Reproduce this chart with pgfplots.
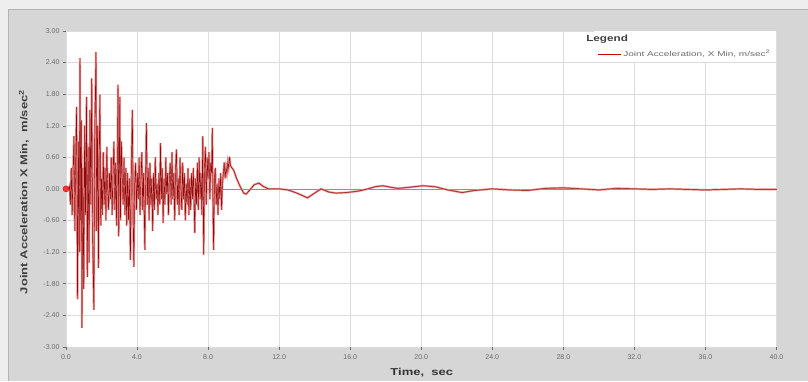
\documentclass[border=0pt]{standalone}
\usepackage{pgfplots}
\pgfplotsset{compat=1.18}
\usepackage{fontspec}
\setmainfont{Liberation Sans}
\definecolor{bgout}{HTML}{EEEEEE}
\definecolor{bgin}{HTML}{D6D6D6}
\definecolor{bord}{HTML}{B4B4B4}
\definecolor{gridc}{HTML}{DCDCDC}
\definecolor{tickc}{HTML}{6A6A6A}
\definecolor{sigdark}{HTML}{8E0A0A}
\definecolor{sigpink}{HTML}{E88A8A}
\definecolor{zeroline}{HTML}{E07070}
\begin{document}
\begin{tikzpicture}[x=1pt,y=1pt]
\fill[bgout] (0,0) rectangle (808,381);
\fill[bgin] (9,0) rectangle (808,371);
\draw[bord,line width=1pt] (9,0) -- (9,371) -- (808,371);
\begin{axis}[
  at={(66pt,34pt)}, anchor=south west,
  scale only axis, width=711pt, height=316pt,
  xmin=0, xmax=40, ymin=-3, ymax=3,
  axis background/.style={fill=white},
  xtick={0,4,...,40}, ytick={-3,-2.4,...,3.01},
  xtick pos=bottom, ytick pos=left,
  grid=major, major grid style={gridc, line width=0.5pt},
  axis line style={draw=none},
  tick style={tickc, line width=0.4pt},
  tick align=outside, major tick length=3pt,
  xticklabel style={font=\fontsize{7}{8}\selectfont, text=tickc, yshift=-1pt, /pgf/number format/.cd, fixed, fixed zerofill, precision=1, assume math mode=true},
  yticklabel style={font=\fontsize{7}{8}\selectfont, text=tickc, /pgf/number format/.cd, fixed, fixed zerofill, precision=2, assume math mode=true},
  clip mode=individual,
  legend style={at={(rel axis cs:1,1)}, anchor=north east, draw=none, fill=white,
    font=\fontsize{7}{8}\selectfont, text=tickc, inner xsep=4pt, inner ysep=2pt, row sep=3pt},
  legend cell align=left,
]
\addlegendimage{empty legend}
\addlegendentry{\hspace*{-37pt}\scalebox{1.3}[1]{\fontsize{9}{10}\selectfont\bfseries\color{black!75}Legend}}
\draw[zeroline, line width=0.6pt] (axis cs:0,0) -- (axis cs:40,0);
\pgfplotstableread{
t v
0.00 0
0.15 0
0.20 0.05
0.25 -0.3
0.30 0.4
0.35 -0.5
0.40 0.3
0.45 1.0
0.50 -0.8
0.55 0.6
0.60 1.56
0.65 -2.1
0.70 0.9
0.75 -1.2
0.79 2.49
0.83 -0.6
0.87 1.3
0.90 -2.64
0.95 0.4
1.00 -1.9
1.05 1.2
1.10 -0.5
1.16 1.75
1.20 -1.67
1.25 0.8
1.30 -1.4
1.35 1.5
1.40 -0.3
1.45 2.1
1.50 -0.9
1.57 -2.3
1.62 1.0
1.69 2.6
1.73 -0.8
1.78 1.2
1.83 -1.5
1.87 0.6
1.91 1.79
1.96 -0.7
2.00 0.2
2.05 -0.5
2.10 0.7
2.15 -0.3
2.20 0.4
2.25 -0.6
2.30 0.8
2.35 0.0
2.40 -0.4
2.45 0.3
2.50 -0.2
2.55 0.6
2.60 -0.5
2.65 0.3
2.70 0.9
2.75 -0.4
2.80 0.5
2.85 -0.7
2.90 0.8
2.93 1.98
2.97 -0.9
3.03 1.75
3.07 -0.6
3.12 0.9
3.17 0.2
3.22 -0.3
3.27 0.6
3.32 -0.5
3.37 0.4
3.42 -0.7
3.47 0.3
3.52 -0.6
3.57 0.2
3.63 -1.35
3.68 0.4
3.74 1.5
3.78 -0.5
3.82 -1.48
3.87 0.1
3.92 0.5
3.97 -0.4
4.02 0.3
4.07 -0.2
4.12 0.6
4.17 -0.5
4.22 0.2
4.27 0.7
4.32 -0.4
4.37 0.3
4.44 -1.16
4.48 0.2
4.53 1.25
4.58 -0.3
4.63 0.4
4.68 -0.6
4.73 0.5
4.78 -0.3
4.83 0.2
4.88 -0.8
4.93 0.3
4.98 -0.4
5.03 0.6
5.08 -0.2
5.13 0.1
5.18 -0.5
5.23 0.3
5.28 -0.3
5.32 0.87
5.37 -0.2
5.42 0.4
5.47 -0.65
5.52 0.2
5.57 -0.3
5.62 0.6
5.67 -0.1
5.72 0.3
5.77 -0.5
5.82 0.2
5.87 0.5
5.92 -0.3
5.97 0.7
6.02 -0.2
6.07 0.3
6.12 -0.6
6.17 0.4
6.22 0.75
6.27 -0.3
6.32 0.2
6.37 -0.5
6.42 0.6
6.47 0.0
6.52 -0.4
6.57 0.5
6.62 -0.2
6.67 0.3
6.72 -0.6
6.77 0.1
6.82 -0.3
6.87 0.4
6.92 -0.5
6.97 0.2
7.02 -0.4
7.07 0.3
7.12 -0.2
7.17 0.4
7.25 -0.84
7.30 0.2
7.35 -0.3
7.40 0.5
7.45 -0.4
7.50 0.6
7.55 -0.2
7.60 0.3
7.65 -0.5
7.70 1.0
7.75 -1.25
7.80 0.4
7.85 0.8
7.90 -0.3
7.95 0.6
8.00 0.2
8.05 0.7
8.10 -0.2
8.15 0.5
8.20 0.3
8.24 1.16
8.28 -0.4
8.31 -1.16
8.36 0.2
8.41 0.4
8.46 -0.3
8.51 0.1
8.56 -0.5
8.61 0.2
8.66 -0.2
8.71 0.3
8.76 -0.4
8.81 0.1
8.86 0.3
8.91 0.5
8.96 0.2
9.01 0.4
9.06 0.3
9.11 0.5
9.16 0.4
9.21 0.61
9.26 0.45
9.30 0.42
9.45 0.35
9.60 0.2
9.80 0.05
10.00 -0.08
10.15 -0.1
10.35 -0.02
10.60 0.08
10.86 0.11
11.10 0.05
11.40 0.0
12.00 0.0
12.50 -0.02
13.00 -0.08
13.60 -0.17
14.00 -0.08
14.36 0.0
14.80 -0.06
15.20 -0.08
15.80 -0.07
16.50 -0.04
17.00 0.0
17.40 0.04
17.83 0.06
18.30 0.03
18.70 0.01
19.30 0.03
20.10 0.06
20.80 0.04
21.50 -0.02
22.30 -0.07
23.00 -0.03
24.00 0.0
25.00 -0.02
26.00 -0.03
27.00 0.01
28.00 0.02
29.00 0.0
30.00 -0.02
31.00 0.01
32.00 0.0
33.00 -0.01
34.00 0.0
35.00 -0.01
36.00 -0.02
37.00 -0.01
38.00 0.0
39.00 -0.01
40.00 -0.01
}\sigdata
\addplot[sigpink, line width=2pt, forget plot] table[x=t,y=v] {\sigdata};
\addplot[sigdark, line width=0.45pt, legend image code/.code={\draw[red!80!black, line width=0.6pt] (0pt,0pt) -- (23pt,0pt);}] table[x=t,y=v] {\sigdata};
\addlegendentry{\scalebox{1.43}[1]{Joint Acceleration, X Min, m/sec\textsuperscript{2}}}
\addplot[only marks, mark=*, mark size=3pt, color=red!85!black, fill=red!80, forget plot] coordinates {(0,0)};
\end{axis}
\node[rotate=90, font=\fontsize{10}{11}\selectfont\bfseries, text=black!75] at (24,189) {\scalebox{1.3}[1]{Joint Acceleration X Min,\ \ m/sec\textsuperscript{2}}};
\node[font=\fontsize{10}{11}\selectfont\bfseries, text=black!80] at (422,8) {\scalebox{1.3}[1]{Time,\ \ sec}};
\end{tikzpicture}
\end{document}
